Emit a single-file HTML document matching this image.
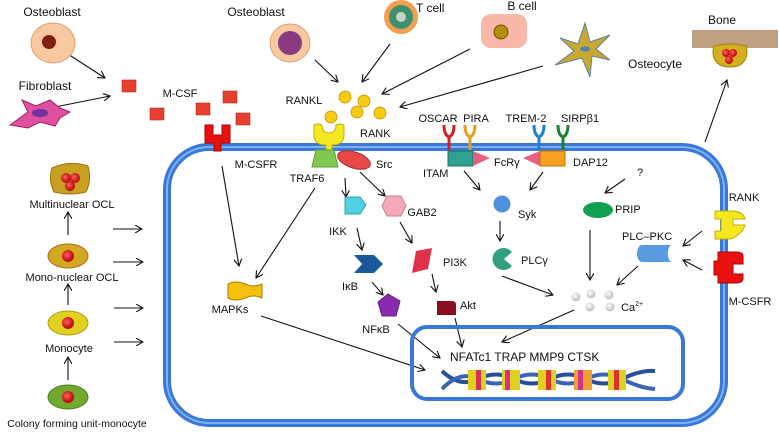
<!DOCTYPE html>
<html><head><meta charset="utf-8"><style>
html,body{margin:0;padding:0;background:#fff}
svg{display:block;font-family:"Liberation Sans",sans-serif;font-size:11px;fill:#111}
</style></head><body>
<svg width="779" height="432" viewBox="0 0 779 432" xmlns="http://www.w3.org/2000/svg">
<defs>
<marker id="a" markerWidth="8" markerHeight="8" refX="7" refY="4" orient="auto" markerUnits="userSpaceOnUse"><path d="M0,0 L7,4 L0,8" fill="none" stroke="#111" stroke-width="1.1"/></marker>
<radialGradient id="rn" cx="40%" cy="40%"><stop offset="0" stop-color="#ff6060"/><stop offset="1" stop-color="#c01010"/></radialGradient>
<radialGradient id="ca" cx="40%" cy="35%"><stop offset="0" stop-color="#fff"/><stop offset="1" stop-color="#c8c8d0"/></radialGradient>
</defs>
<g fill="none" stroke="#111" stroke-width="1.1" marker-end="url(#a)">
<!-- left column -->
<line x1="68" y1="235" x2="68" y2="212"/>
<line x1="68" y1="305" x2="68" y2="284"/>
<line x1="68" y1="380" x2="68" y2="357"/>
<line x1="113" y1="229" x2="142" y2="229"/>
<line x1="113" y1="262" x2="143" y2="262"/>
<line x1="114" y1="308" x2="143" y2="308"/>
<line x1="114" y1="342" x2="143" y2="342"/>
<!-- top -->
<line x1="57" y1="47" x2="105" y2="78"/>
<line x1="50" y1="108" x2="110" y2="96"/>
<line x1="315" y1="60" x2="338" y2="82"/>
<line x1="390" y1="44" x2="362" y2="82"/>
<line x1="470" y1="49" x2="382" y2="94"/>
<line x1="543" y1="66" x2="400" y2="107"/>
<line x1="705" y1="142" x2="727" y2="80"/>
<!-- in cell -->
<line x1="222" y1="166" x2="239" y2="266"/>
<line x1="315" y1="188" x2="256" y2="278"/>
<line x1="261" y1="316" x2="425" y2="370"/>
<line x1="345" y1="178" x2="346" y2="197"/>
<line x1="360" y1="172" x2="385" y2="196"/>
<line x1="357" y1="228" x2="362" y2="250"/>
<line x1="372" y1="282" x2="383" y2="295"/>
<line x1="398" y1="324" x2="440" y2="358"/>
<line x1="400" y1="222" x2="412" y2="243"/>
<line x1="432" y1="274" x2="436" y2="292"/>
<line x1="455" y1="318" x2="462" y2="347"/>
<line x1="464" y1="171" x2="480" y2="190"/>
<line x1="543" y1="172" x2="530" y2="190"/>
<line x1="625" y1="179" x2="605" y2="193"/>
<line x1="500" y1="221" x2="500" y2="241"/>
<line x1="502" y1="276" x2="553" y2="295"/>
<line x1="590" y1="230" x2="590" y2="280"/>
<line x1="638" y1="266" x2="617" y2="285"/>
<line x1="702" y1="231" x2="683" y2="246"/>
<line x1="702" y1="270" x2="683" y2="260"/>
<line x1="574" y1="310" x2="502" y2="342"/>
</g>
<!-- cell membrane -->
<rect x="167" y="147" width="557" height="276" rx="42" fill="none" stroke="#3a78d8" stroke-width="8"/>
<rect x="167" y="147" width="557" height="276" rx="42" fill="none" stroke="#7fb0f0" stroke-width="2"/>
<!-- nucleus -->
<rect x="412" y="327" width="271" height="72" rx="15" fill="none" stroke="#3a78d8" stroke-width="4"/>
<!-- DNA -->
<g>
<path d="M442,371 Q460,388 478,379 T514,379 T550,379 T586,379 T622,379 T655,371" fill="none" stroke="#2a4f9a" stroke-width="4"/>
<path d="M442,389 Q460,370 478,379 T514,379 T550,379 T586,379 T622,379 T655,389" fill="none" stroke="#3a64b8" stroke-width="4"/>
<g>
<rect x="468" y="370" width="18" height="20" fill="#e0d020"/><rect x="476" y="370" width="5" height="20" fill="#d83050"/>
<rect x="502" y="370" width="18" height="20" fill="#e0d020"/><rect x="505" y="370" width="5" height="20" fill="#d8308a"/>
<rect x="538" y="370" width="18" height="20" fill="#e0d020"/><rect x="546" y="370" width="5" height="20" fill="#e03030"/>
<rect x="574" y="370" width="18" height="20" fill="#f0a030"/><rect x="578" y="370" width="5" height="20" fill="#d8308a"/>
<rect x="608" y="370" width="18" height="20" fill="#e0d020"/><rect x="614" y="370" width="5" height="20" fill="#e03030"/>
</g>
</g>
<!-- left cells -->
<path d="M52,168 Q70,160 88,166 Q92,180 86,192 Q70,196 54,192 Q48,180 52,168Z" fill="#c8a020" stroke="#a07010"/>
<circle cx="66" cy="178" r="5" fill="url(#rn)"/><circle cx="75" cy="178" r="5" fill="url(#rn)"/><circle cx="70" cy="186" r="5" fill="url(#rn)"/>
<ellipse cx="68" cy="256" rx="20" ry="12" fill="#d4a820" stroke="#a07010"/><circle cx="68" cy="256" r="6" fill="url(#rn)"/>
<ellipse cx="68" cy="323" rx="20" ry="12" fill="#e0d020" stroke="#b0a010"/><circle cx="68" cy="323" r="6" fill="url(#rn)"/>
<ellipse cx="68" cy="397" rx="20" ry="12" fill="#70a830" stroke="#508020"/><circle cx="68" cy="397" r="6" fill="url(#rn)"/>
<text x="72" y="208" text-anchor="middle">Multinuclear OCL</text>
<text x="72" y="281" text-anchor="middle">Mono-nuclear OCL</text>
<text x="69" y="352" text-anchor="middle">Monocyte</text>
<text x="77" y="427" text-anchor="middle" font-size="10.5">Colony forming unit-monocyte</text>
<!-- top left -->
<text x="52" y="16" text-anchor="middle" font-size="12">Osteoblast</text>
<ellipse cx="53" cy="43" rx="22" ry="20" fill="#f8c8a0" stroke="#e0a070"/>
<circle cx="49" cy="42" r="7" fill="#802010"/>
<text x="45" y="90" text-anchor="middle" font-size="12">Fibroblast</text>
<path d="M10,125 L28,112 L22,100 L36,106 L50,100 L60,108 L70,112 L60,118 L55,126 L40,122 L28,128Z" fill="#e050a0" stroke="#a02060"/>
<ellipse cx="40" cy="113" rx="8" ry="4" fill="#7030a0"/>
<g fill="#e84030" stroke="#b03020" stroke-width=".6">
<rect x="122" y="80" width="14" height="12"/><rect x="150" y="108" width="14" height="12"/><rect x="196" y="103" width="14" height="12"/><rect x="223" y="91" width="14" height="12"/><rect x="236" y="113" width="14" height="12"/>
</g>
<text x="180" y="97" text-anchor="middle">M-CSF</text>
<path d="M205,126 h8 v8 h4 v-8 h-0 M205,126" fill="none"/>
<path d="M205,125 h8 v10 h9 v-10 h8 v18 h-9 v8 h-7 v-8 h-9z" fill="#e81010" stroke="#b00000"/>
<text x="256" y="168" text-anchor="middle">M-CSFR</text>
<!-- top middle cells -->
<text x="256" y="16" text-anchor="middle" font-size="12">Osteoblast</text>
<ellipse cx="290" cy="43" rx="20" ry="19" fill="#f8c8a0" stroke="#e0a070"/>
<circle cx="290" cy="43" r="12" fill="#8a3a80"/>
<circle cx="401" cy="17" r="17" fill="#f0a050"/><circle cx="401" cy="17" r="12" fill="#409070"/><circle cx="401" cy="17" r="5" fill="#c0d8c0"/>
<text x="408" y="12" font-size="12" text-anchor="start" dx="8">T cell</text>
<text x="522" y="10" text-anchor="middle" font-size="12">B cell</text>
<rect x="481" y="14" width="46" height="34" rx="10" fill="#f8b8a8"/>
<circle cx="501" cy="32" r="7" fill="#b09010" stroke="#705000"/>
<path d="M585,23 L590,42 L610,35 L596,49 L610,60 L592,56 L590,77 L582,58 L555,65 L574,51 L560,38 L578,44Z" fill="#c8a830" stroke="#6080a0"/>
<ellipse cx="585" cy="49" rx="5" ry="2.5" fill="#5080c0"/>
<text x="628" y="68" font-size="12">Osteocyte</text>
<text x="722" y="24" text-anchor="middle" font-size="12">Bone</text>
<rect x="692" y="30" width="86" height="18" fill="#c0a080"/>
<path d="M714,46 Q730,42 746,46 Q750,60 738,66 Q730,68 722,66 Q710,60 714,46Z" fill="#d4b020" stroke="#a08010"/>
<circle cx="726" cy="53" r="4" fill="url(#rn)"/><circle cx="733" cy="53" r="4" fill="url(#rn)"/><circle cx="729" cy="60" r="4" fill="url(#rn)"/>
<!-- RANKL -->
<g fill="#f5cc10" stroke="#c09000" stroke-width=".8">
<circle cx="345" cy="97" r="6"/><circle cx="364" cy="101" r="6"/><circle cx="357" cy="112" r="6"/><circle cx="380" cy="113" r="6"/><circle cx="331" cy="117" r="6"/>
</g>
<text x="304" y="104" text-anchor="middle">RANKL</text>
<text x="360" y="137">RANK</text>
<path d="M314,125 q4,-2 8,0 q0,8 7,8 q7,0 7,-8 q4,-2 8,0 v10 q0,10 -12,10 v6 h-6 v-6 q-12,0 -12,-10z" fill="#f5e820" stroke="#c0b000"/>
<path d="M316,150 h18 l4,17 h-26z" fill="#80c850" stroke="#60a030"/>
<text x="307" y="182" text-anchor="middle">TRAF6</text>
<ellipse cx="354" cy="160" rx="17" ry="8" transform="rotate(18 354 160)" fill="#e84848" stroke="#a03030"/>
<text x="376" y="168">Src</text>
<path d="M345,197 h15 l6,8 l-6,9 h-15z" fill="#50d0e0" stroke="#30a0b0"/>
<text x="338" y="235" text-anchor="middle">IKK</text>
<path d="M387,196 h14 l5,10 l-5,10 h-14 l-5,-10z" fill="#f4a8b8" stroke="#d08090"/>
<text x="422" y="216" text-anchor="middle">GAB2</text>
<path d="M354,255 h20 l9,9 l-9,9 h-20 l8,-9z" fill="#1a5a9a"/>
<text x="350" y="290" text-anchor="middle">IκB</text>
<path d="M388,294 l12,7 l-4,15 h-14 l-4,-14z" fill="#8a2ab0" stroke="#602080"/>
<text x="376" y="333" text-anchor="middle">NFκB</text>
<path d="M416,251 l16,-3 l-4,21 l-16,4z" fill="#e0304a"/>
<text x="443" y="266">PI3K</text>
<path d="M437,301 h15 q4,0 4,4 v10 h-19z" fill="#8a1020"/>
<text x="460" y="309">Akt</text>
<path d="M228,284 q8,-4 17,0 t17,0 v14 q-8,-4 -17,0 t-17,0z" fill="#f5c010" stroke="#a08000"/>
<text x="230" y="313" text-anchor="middle">MAPKs</text>
<!-- ITAM receptors -->
<g fill="none" stroke-width="3">
<path d="M444,125 q0,10 5,12 q5,-2 5,-12 M449,137 v13" stroke="#d02020"/>
<path d="M465,125 q0,10 5,12 q5,-2 5,-12 M470,137 v13" stroke="#e0a020"/>
<path d="M534,125 q0,10 5,12 q5,-2 5,-12 M539,137 v13" stroke="#2080d0"/>
<path d="M558,125 q0,10 5,12 q5,-2 5,-12 M563,137 v13" stroke="#208030"/>
</g>
<text x="438" y="122" text-anchor="middle">OSCAR</text>
<text x="476" y="122" text-anchor="middle">PIRA</text>
<text x="526" y="122" text-anchor="middle">TREM-2</text>
<text x="580" y="122" text-anchor="middle">SIRPβ1</text>
<rect x="448" y="151" width="25" height="15" fill="#30a090" stroke="#207060"/>
<path d="M473,151 l17,7 l-17,8z" fill="#e86080"/>
<path d="M540,151 l-17,7 l17,8z" fill="#e86080"/>
<rect x="540" y="151" width="25" height="15" fill="#f8a020" stroke="#c07000"/>
<text x="494" y="166">FcRγ</text>
<text x="423" y="177">ITAM</text>
<text x="573" y="166">DAP12</text>
<text x="637" y="176">?</text>
<circle cx="502" cy="204" r="8.5" fill="#5090e0"/>
<text x="518" y="218">Syk</text>
<ellipse cx="598" cy="210" rx="15" ry="8" fill="#10a050"/>
<text x="615" y="213">PRIP</text>
<path d="M512,252 A11,11 0 1 0 512,266 L504,259z" fill="#30a080"/>
<text x="521" y="264">PLCγ</text>
<text x="622" y="240">PLC–PKC</text>
<path d="M642,245 h30 a4,8 0 0 0 0,17 h-30 a5,8.5 0 0 1 0,-17z" fill="#5a9ae0"/>
<ellipse cx="673" cy="253.5" rx="4" ry="8" fill="#fff"/>
<g fill="url(#ca)"><circle cx="576" cy="297" r="4.5"/><circle cx="591" cy="294" r="4.5"/><circle cx="609" cy="295" r="4.5"/><circle cx="590" cy="307" r="4.5"/><circle cx="610" cy="307" r="4.5"/></g>
<text x="621" y="311">Ca<tspan font-size="7" dy="-5">2+</tspan></text>
<!-- right receptors -->
<path d="M715,211 h16 q12,0 14,8 h-12 v6 h12 q-2,8 -14,14 h-16 v-8 h6 v-12 h-6z" fill="#f5e820" stroke="#c0b000"/>
<text x="744" y="201" text-anchor="middle">RANK</text>
<path d="M718,252 h18 q7,0 7,4 v8 h-10 v10 h10 v4 q0,5 -7,5 h-18 v-8 h-4 v-14 h4z" fill="#e81010" stroke="#b00000"/>
<text x="750" y="305" text-anchor="middle">M-CSFR</text>
<text x="450" y="361" font-size="12">NFATc1 TRAP MMP9 CTSK</text>
</svg>
</body></html>
